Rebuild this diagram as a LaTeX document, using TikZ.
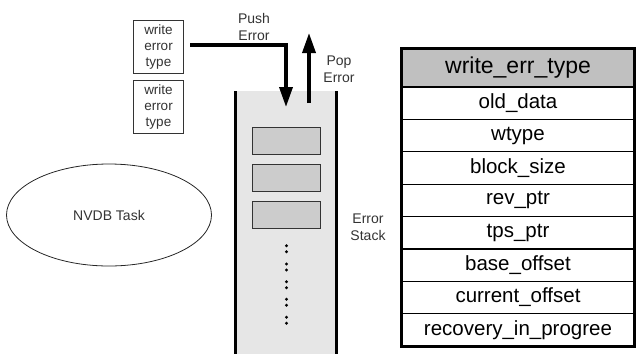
\documentclass[tikz,border=0pt]{standalone}
\usepackage{fontspec}
\setmainfont{Liberation Sans}
\usetikzlibrary{arrows.meta,shapes.geometric}
\definecolor{stackfill}{HTML}{E6E6E6}
\definecolor{slotfill}{HTML}{CCCCCC}
\definecolor{headfill}{HTML}{C0C0C0}
\definecolor{labeltext}{HTML}{333333}
\begin{document}
\begin{tikzpicture}[x=1pt,y=-1pt,
  lbl/.style={font=\fontsize{14}{17}\selectfont, text=labeltext, align=center, inner sep=0pt},
  wbox/.style={draw=black!80, line width=0.8pt, minimum width=50pt, minimum height=53pt, align=center,
    font=\fontsize{13.5}{16.2}\selectfont, text=labeltext, inner sep=0pt},
  slotbox/.style={draw=black!80, fill=slotfill, line width=1pt, minimum width=68pt, minimum height=27pt, inner sep=0pt},
  bigarrow/.style={line width=3.5pt, -{Triangle[width=13pt,length=20pt]}},
  rowbox/.style={draw=black, line width=1.2pt, minimum width=232pt, minimum height=32.4pt, inner sep=0pt,
    font=\fontsize{20.5}{20.5}\selectfont},
  headbox/.style={draw=black, fill=headfill, line width=1.2pt, minimum width=232pt, minimum height=38pt, inner sep=0pt,
    font=\fontsize{23}{23}\selectfont},
  dotmark/.style={fill=black, draw=none},
]
\useasboundingbox (0,0) rectangle (636,354);

% error stack
\fill[stackfill] (235,91) rectangle (336,354);
\draw[line width=3pt] (235,91) -- (235,354);
\draw[line width=3pt] (336,91) -- (336,354);
\node[slotbox] (s1) at (286,140.5) {};
\node[slotbox] (s2) at (286,177.5) {};
\node[slotbox] (s3) at (286,214.5) {};
\foreach \yy in {245.7,251.7,264,270,281.7,287.7,299.3,305.3,317.3,323.3}
  \fill[dotmark] (286.5,\yy) circle (1.6pt);
\node[lbl] (es) at (368,227) {Error\\Stack};

% write error type boxes
\node[wbox] (w1) at (158.5,47) {write\\error\\type};
\node[wbox] (w2) at (158.5,107) {write\\error\\type};

% push / pop
\node[lbl] (push) at (254,27) {Push\\Error};
\node[lbl] (pop) at (339,69) {Pop\\Error};
\coordinate (pushstart) at (190,45);
\coordinate (pushend) at (286,107);
\coordinate (popstart) at (309,103);
\coordinate (popend) at (309,33);
\draw[bigarrow] (pushstart) -| (pushend);
\draw[bigarrow] (popstart) -- (popend);

% NVDB task
\node[draw=black!85, line width=0.8pt, ellipse, minimum width=205pt, minimum height=102pt, inner sep=0pt,
  font=\fontsize{14}{17}\selectfont, text=labeltext] (task) at (109,215) {NVDB Task};

% table
\node[headbox] (h) at (518,68) {write\_err\_type};
\node[rowbox] (r1) at (518,103.2) {old\_data};
\node[rowbox] (r2) at (518,135.6) {wtype};
\node[rowbox] (r3) at (518,168.0) {block\_size};
\node[rowbox] (r4) at (518,200.4) {rev\_ptr};
\node[rowbox] (r5) at (518,232.8) {tps\_ptr};
\node[rowbox] (r6) at (518,265.2) {base\_offset};
\node[rowbox] (r7) at (518,297.6) {current\_offset};
\node[rowbox] (r8) at (518,330.0) {recovery\_in\_progree};
\draw[line width=3pt] (h.north west) rectangle (r8.south east);
\end{tikzpicture}
\end{document}
